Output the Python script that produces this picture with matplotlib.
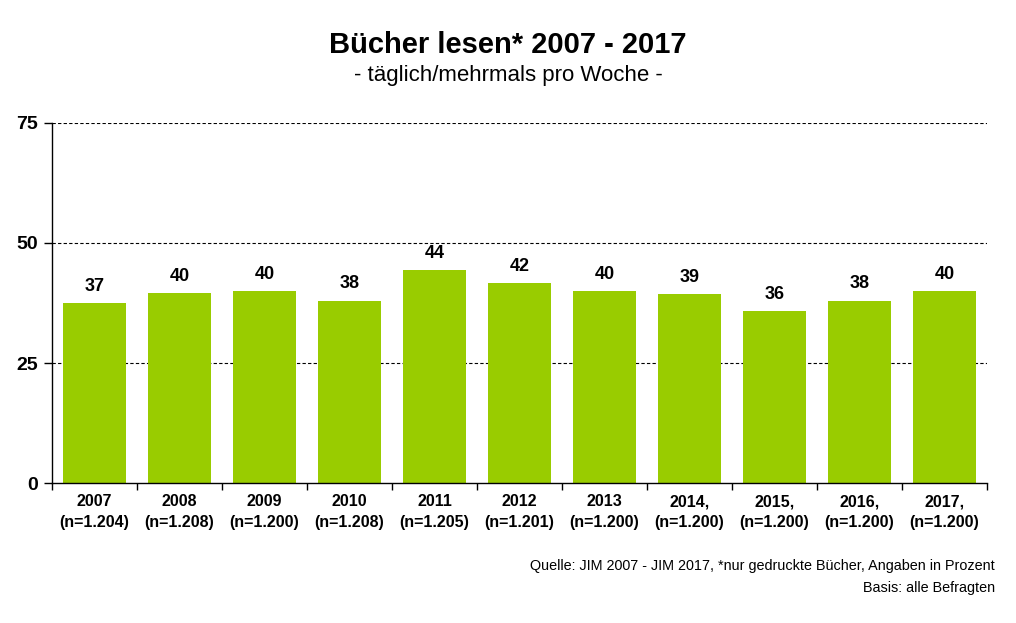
import matplotlib.pyplot as plt
import numpy as np
from matplotlib.ticker import FixedLocator

plt.rcParams['font.family'] = ['Liberation Sans Narrow', 'Liberation Sans', 'DejaVu Sans']

# --- Data ---
years = ["2007", "2008", "2009", "2010", "2011", "2012",
         "2013", "2014,", "2015,", "2016,", "2017,"]
sample_sizes = ["1.204", "1.208", "1.200", "1.208", "1.205", "1.201",
                "1.200", "1.200", "1.200", "1.200", "1.200"]
heights = [37.4, 39.5, 40.0, 38.0, 44.3, 41.6, 40.0, 39.3, 35.8, 38.0, 40.0]
value_labels = ["37", "40", "40", "38", "44", "42", "40", "39", "36", "38", "40"]
y_ticks = [0, 25, 50, 75]

bar_color = "#99cc00"

fig = plt.figure(figsize=(10.16, 6.23), dpi=100)
ax = fig.add_axes([0.0512, 0.2247, 0.9203, 0.5779])

x = np.arange(len(years))
bars = ax.bar(x, heights, width=0.74, color=bar_color, zorder=2)

for xi, h, lab in zip(x, heights, value_labels):
    ax.text(xi, h + 1.7, lab, ha='center', va='bottom',
            fontsize=13, fontweight='bold', family='Liberation Sans')

ax.set_xlim(-0.5, len(years) - 0.5)
ax.set_ylim(0, 75)
ax.set_yticks(y_ticks)
ax.set_yticklabels([str(t) for t in y_ticks], fontsize=14, fontweight='bold',
                   family='Liberation Sans')
for t in y_ticks[1:]:
    ax.axhline(t, color='black', linestyle=(0, (3, 2)), linewidth=0.8, zorder=1)

# category labels under bars, tick marks between categories
ax.set_xticks(x)
ax.set_xticklabels([f"{y}\n(n={n})" for y, n in zip(years, sample_sizes)],
                   fontsize=11.5, fontweight='bold', family='Liberation Sans',
                   linespacing=1.45)
ax.tick_params(axis='x', which='major', length=0, pad=8)
ax.xaxis.set_minor_locator(FixedLocator(np.arange(-0.5, len(years), 1.0)))
ax.tick_params(axis='x', which='minor', length=5, direction='out', width=1)
ax.tick_params(axis='y', length=6, width=1, pad=4)

ax.spines['top'].set_visible(False)
ax.spines['right'].set_visible(False)
ax.spines['left'].set_linewidth(1)
ax.spines['bottom'].set_linewidth(1)

fig.text(0.5, 0.927, "Bücher lesen* 2007 - 2017", ha='center', va='center',
         fontsize=21, fontweight='bold')
fig.text(0.5, 0.879, "- täglich/mehrmals pro Woche -", ha='center', va='center',
         fontsize=16)

fig.text(0.979, 0.091, "Quelle: JIM 2007 - JIM 2017, *nur gedruckte Bücher, Angaben in Prozent",
         ha='right', va='center', fontsize=10.4)
fig.text(0.979, 0.056, "Basis: alle Befragten", ha='right', va='center', fontsize=10.4)

fig.savefig("out.png", dpi=100)
